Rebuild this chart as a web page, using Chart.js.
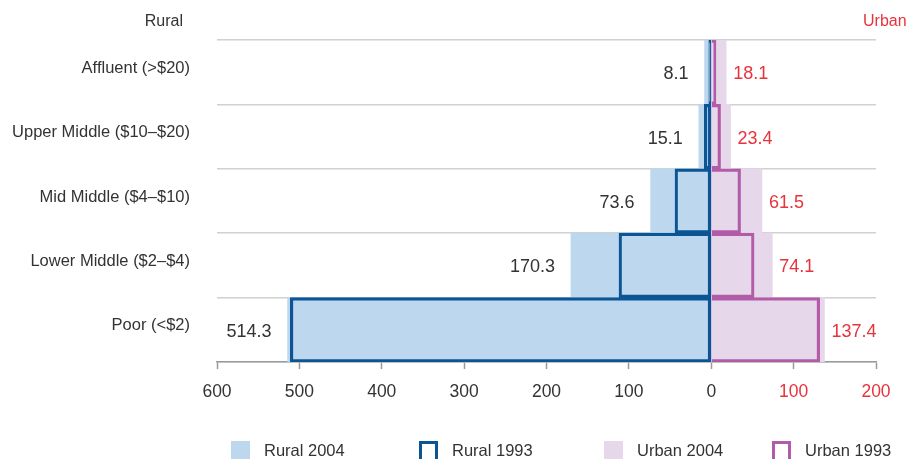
<!DOCTYPE html>
<html>
<head>
<meta charset="utf-8">
<script src="https://cdn.jsdelivr.net/npm/chart.js@4/dist/chart.umd.min.js"></script>
<style>
  html, body { margin: 0; padding: 0; background: #fff; overflow: hidden; }
  #wrap { position: relative; width: 906px; height: 459px; }
</style>
</head>
<body>
<div id="wrap"><canvas id="chart"></canvas></div>
<script>
// Income classes, top to bottom
const categories = ['Affluent (>$20)', 'Upper Middle ($10\u2013$20)', 'Mid Middle ($4\u2013$10)', 'Lower Middle ($2\u2013$4)', 'Poor (<$2)'];

// Population (millions)
const rural2004 = [8.1, 15.1, 73.6, 170.3, 514.3];
const rural1993 = [3, 8.5, 44, 112, 511];
const urban2004 = [18.1, 23.4, 61.5, 74.1, 137.4];
const urban1993 = [5.7, 11.3, 35.6, 52, 131.6];

const xTicks = [-600, -500, -400, -300, -200, -100, 0, 100, 200];

const DARK = '#333333';
const RED = '#e8323c';
const FONT = "'Liberation Sans', Arial, sans-serif";

// value labels + side headers
const labelsPlugin = {
    id: 'valueLabels',
    afterDatasetsDraw(chart) {
        const ctx = chart.ctx;
        const x = chart.scales.x;
        const y = chart.scales.y;
        ctx.save();
        ctx.font = '18px ' + FONT;
        ctx.textBaseline = 'middle';
        categories.forEach((c, i) => {
            const yy = y.getPixelForValue(i) + 2;
            ctx.fillStyle = DARK;
            ctx.textAlign = 'right';
            ctx.fillText(rural2004[i].toFixed(1), x.getPixelForValue(-rural2004[i]) - 16, yy);
            ctx.fillStyle = RED;
            ctx.textAlign = 'left';
            ctx.fillText(urban2004[i].toFixed(1), x.getPixelForValue(urban2004[i]) + 7, yy);
        });
        ctx.font = '16px ' + FONT;
        ctx.fillStyle = DARK;
        ctx.textAlign = 'right';
        ctx.fillText('Rural', 183, 22);
        ctx.fillStyle = RED;
        ctx.textAlign = 'left';
        ctx.fillText('Urban', 863, 22);
        ctx.restore();
    }
};

// legend drawn by hand so the spacing follows the original
const legendPlugin = {
    id: 'bottomLegend',
    afterDraw(chart) {
        const ctx = chart.ctx;
        const starts = [231, 419, 604, 772];
        ctx.save();
        ctx.font = '16.5px ' + FONT;
        ctx.textBaseline = 'middle';
        ctx.textAlign = 'left';
        chart.data.datasets.forEach((ds, i) => {
            const bx = starts[i];
            const by = 441;
            if (ds.borderWidth) {
                ctx.strokeStyle = ds.borderColor;
                ctx.lineWidth = 3;
                ctx.strokeRect(bx + 1.5, by + 1.5, 16, 18);
            } else {
                ctx.fillStyle = ds.backgroundColor;
                ctx.fillRect(bx, by, 19, 19);
            }
            ctx.fillStyle = DARK;
            ctx.fillText(ds.label, bx + 33, by + 10);
        });
        ctx.restore();
    }
};

new Chart(document.getElementById('chart'), {
    type: 'bar',
    data: {
        labels: categories,
        datasets: [
            {
                label: 'Rural 2004',
                data: rural2004.map(v => -v),
                backgroundColor: '#bdd7ee',
                borderWidth: 0,
                order: 2
            },
            {
                label: 'Rural 1993',
                data: rural1993.map(v => -v),
                backgroundColor: 'rgba(0,0,0,0)',
                borderColor: '#0b5594',
                borderWidth: 2.5,
                borderSkipped: false,
                order: 1
            },
            {
                label: 'Urban 2004',
                data: urban2004,
                backgroundColor: '#e6d8ea',
                borderWidth: 0,
                order: 2
            },
            {
                label: 'Urban 1993',
                data: urban1993,
                backgroundColor: 'rgba(0,0,0,0)',
                borderColor: '#b25ca9',
                borderWidth: 2.5,
                borderSkipped: 'start',
                order: 1
            }
        ]
    },
    options: {
        indexAxis: 'y',
        responsive: true,
        maintainAspectRatio: false,
        animation: false,
        grouped: false,
        barPercentage: 1,
        categoryPercentage: 1,
        layout: {
            padding: { top: 40, right: 30, left: 0, bottom: 57 }
        },
        plugins: {
            tooltip: { enabled: false },
            legend: { display: false }
        },
        scales: {
            x: {
                min: -600,
                max: 200,
                afterBuildTicks: (scale) => {
                    scale.ticks = xTicks.map(v => ({ value: v }));
                },
                afterFit: (scale) => {
                    scale.height = 40;
                },
                grid: {
                    drawOnChartArea: true,
                    color: (c) => (c.tick && c.tick.value === 0 ? '#c79bc3' : 'rgba(0,0,0,0)'),
                    lineWidth: 1,
                    tickColor: '#9a9a9a',
                    tickLength: 7,
                    tickWidth: 1.5
                },
                border: { display: true, color: '#9a9a9a', width: 1.5 },
                ticks: {
                    callback: (v) => Math.abs(v),
                    color: (c) => (c.tick && c.tick.value > 0 ? RED : DARK),
                    font: { size: 17.5, family: FONT },
                    padding: 13,
                    maxRotation: 0
                }
            },
            y: {
                afterFit: (scale) => {
                    scale.width = 217;
                },
                grid: {
                    color: '#cdd2d2',
                    lineWidth: 1.5,
                    drawTicks: false
                },
                border: { display: false },
                ticks: {
                    color: DARK,
                    font: { size: 16.5, family: FONT },
                    padding: 27,
                    labelOffset: -4
                }
            }
        }
    },
    plugins: [labelsPlugin, legendPlugin]
});
</script>
</body>
</html>
